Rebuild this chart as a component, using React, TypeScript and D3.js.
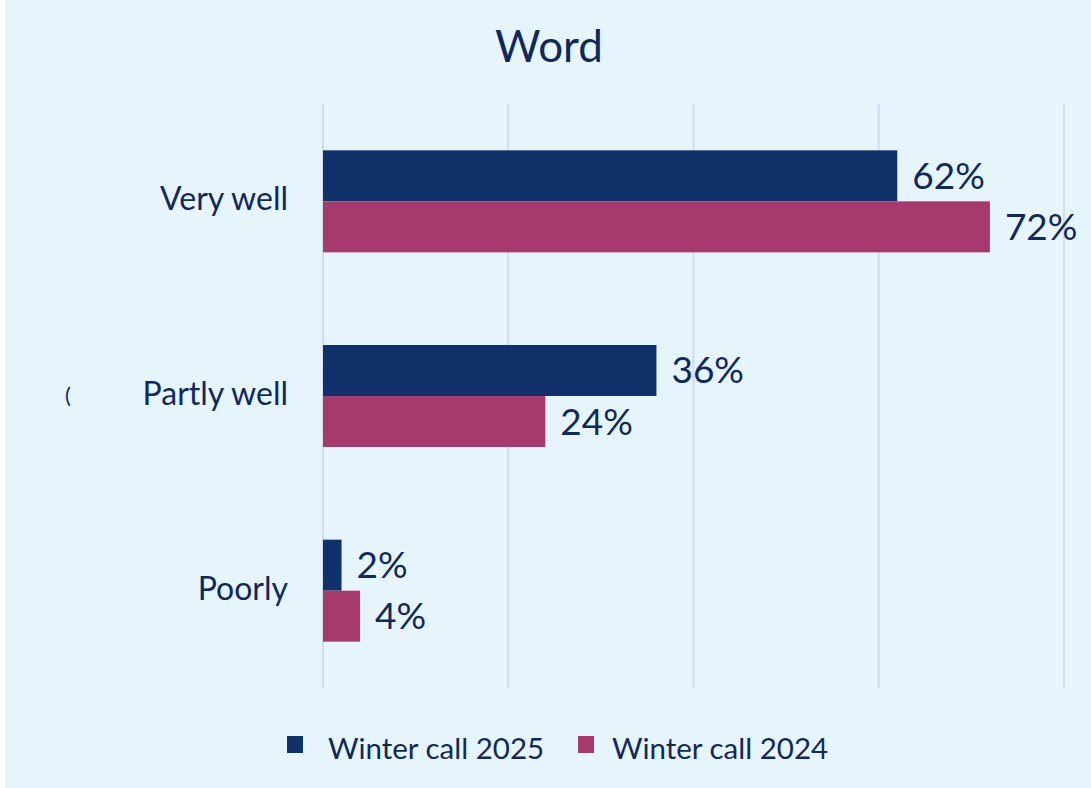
import React from "react";
import * as d3 from "d3";

const categories = ["Very well", "Partly well", "Poorly"];
const series2025 = [62, 36, 2];
const series2024 = [72, 24, 4];
const seriesNames = ["Winter call 2025", "Winter call 2024"];
const xTicks = [0, 20, 40, 60, 80];

const W = 1091;
const H = 788;
const colors = ["#10326a", "#a63a6e"];
const textColor = "#10295a";
const font = "Lato, 'Open Sans', sans-serif";

export default function App() {
  const x = d3.scaleLinear().domain([0, 80]).range([323, 1064]);
  const y = d3.scaleBand<string>().domain(categories).range([104, 688]).paddingInner(0.476).paddingOuter(0.238);
  const inner = d3.scaleBand<number>().domain([0, 1]).range([0, y.bandwidth()]);
  const data = [series2025, series2024];

  return (
    <svg width={W} height={H} style={{ position: "absolute", left: 0, top: 0, display: "block" }}>
      <rect x={5} y={0} width={W - 5} height={H} fill="#e6f5fc" />
      <text x={549} y={62} textAnchor="middle" fontFamily={font} fontSize={44} fill={textColor}>Word</text>
      {xTicks.map((t) => (
        <line key={t} x1={x(t)} x2={x(t)} y1={104} y2={688} stroke="#cfdcf1" strokeWidth={2} />
      ))}
      {categories.map((c, i) => (
        <g key={c}>
          <text x={288} y={(y(c) as number) + y.bandwidth() / 2 + 9} textAnchor="end" fontFamily={font} fontSize={32} fill={textColor}>{c}</text>
          {data.map((s, j) => {
            const by = (y(c) as number) + (inner(j) as number);
            return (
              <g key={j}>
                <rect x={x(0)} y={by} width={x(s[i]) - x(0)} height={inner.bandwidth()} fill={colors[j]} />
                <text x={x(s[i]) + 15} y={by + inner.bandwidth() / 2 + 13} fontFamily={font} fontSize={37} fill={textColor}>{s[i]}%</text>
              </g>
            );
          })}
        </g>
      ))}
      <text x={65} y={403} fontFamily={font} fontSize={22} fill={textColor}>(</text>
      {seriesNames.map((n, j) => {
        const lx = j === 0 ? 287 : 578;
        return (
          <g key={n}>
            <rect x={lx} y={736} width={16} height={17} fill={colors[j]} />
            <text x={lx + 41 - j * 7} y={759} fontFamily={font} fontSize={29.5} fill={textColor}>{n}</text>
          </g>
        );
      })}
    </svg>
  );
}
